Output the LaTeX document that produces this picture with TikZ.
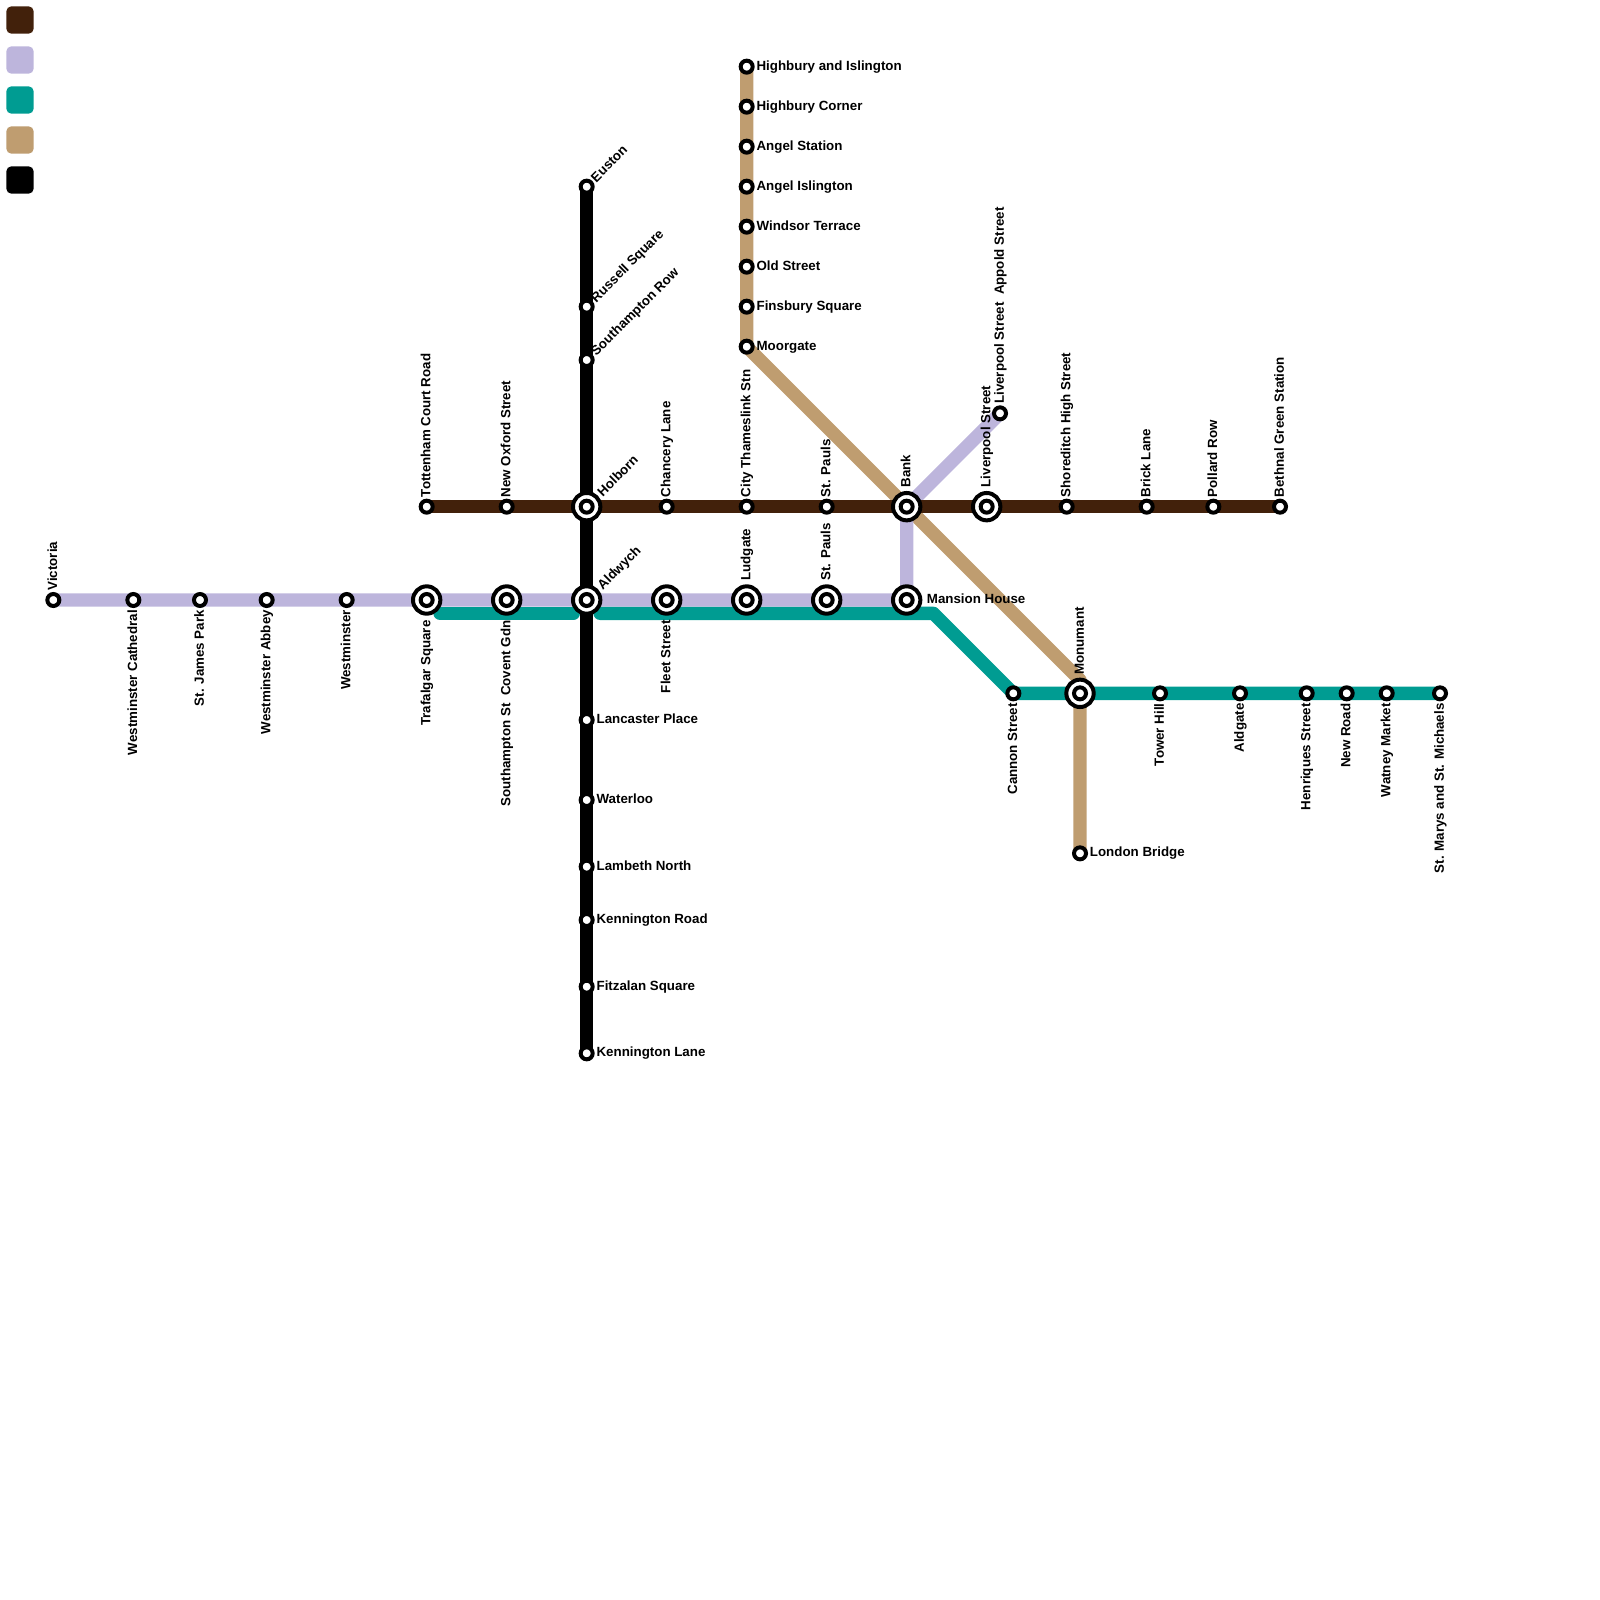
\documentclass[tikz,border=0pt]{standalone}
\usepackage{fontspec}
\setmainfont{Liberation Sans}
\usetikzlibrary{backgrounds}
\definecolor{lnbrown}{HTML}{42210B}
\definecolor{lnpurple}{HTML}{BDB5DC}
\definecolor{lnteal}{HTML}{009C92}
\definecolor{lntan}{HTML}{BF9D70}
\begin{document}
\begin{tikzpicture}
[x=0.25cm, y=-0.25cm, font=\fontsize{7.11}{8}\selectfont\bfseries,
key0/.style={rectangle, rounded corners=2.7pt, inner sep=0pt, minimum size=14.6pt},
lne/.style={line width=7.11pt, line cap=round, line join=round},
stn/.style={circle, draw=black, fill=white, line width=2.13pt, inner sep=0pt, minimum size=6.4pt},
ichg/.style={circle, draw=black, fill=white, line width=2.13pt, inner sep=0pt, minimum size=14.6pt},
lblup/.style={rotate=90, anchor=base west, inner sep=0pt, xshift=4.9pt, yshift=-2pt},
lbldn/.style={rotate=90, anchor=base east, inner sep=0pt, xshift=-5.2pt, yshift=-2pt},
lblrt/.style={anchor=base west, inner sep=0pt, xshift=5.1pt, yshift=-1.9pt},
lbldg/.style={anchor=base west, inner sep=0pt, xshift=5pt, yshift=1.8pt, rotate=45},
lbldgx/.style={anchor=base west, inner sep=0pt, xshift=8.5pt, yshift=5pt, rotate=45}]

\useasboundingbox (0,0) rectangle (120,120);

% key
\node[key0, fill=lnbrown] (key1) at (1.5,1.5) {};
\node[key0, fill=lnpurple] (key2) at (1.5,4.5) {};
\node[key0, fill=lnteal] (key3) at (1.5,7.5) {};
\node[key0, fill=lntan] (key4) at (1.5,10.5) {};
\node[key0, fill=black] (key5) at (1.5,13.5) {};

% stations
\node[stn] (victoria) at (4,45) {};
\node[stn] (wcath) at (10,45) {};
\node[stn] (james) at (15,45) {};
\node[stn] (abbey) at (20,45) {};
\node[stn] (westm) at (26,45) {};

\node[stn] (tott) at (32,38) {};
\node[stn] (oxford) at (38,38) {};
\node[stn] (chancery) at (50,38) {};
\node[stn] (thames) at (56,38) {};
\node[stn] (pauls) at (62,38) {};
\node[stn] (shore) at (80,38) {};
\node[stn] (brick) at (86,38) {};
\node[stn] (pollard) at (91,38) {};
\node[stn] (bethnal) at (96,38) {};

\node[stn] (appold) at (75,31) {};

\node[stn] (euston) at (44,14) {};
\node[stn] (russell) at (44,23) {};
\node[stn] (srow) at (44,27) {};
\node[stn] (lancaster) at (44,54) {};
\node[stn] (waterloo) at (44,60) {};
\node[stn] (lambeth) at (44,65) {};
\node[stn] (kroad) at (44,69) {};
\node[stn] (fitzalan) at (44,74) {};
\node[stn] (klane) at (44,79) {};

\node[stn] (hislington) at (56,5) {};
\node[stn] (hcorner) at (56,8) {};
\node[stn] (angelst) at (56,11) {};
\node[stn] (angelis) at (56,14) {};
\node[stn] (windsor) at (56,17) {};
\node[stn] (oldst) at (56,20) {};
\node[stn] (finsbury) at (56,23) {};
\node[stn] (moorgate) at (56,26) {};
\node[stn] (lbridge) at (81,64) {};

\node[stn] (cannon) at (76,52) {};
\node[stn] (tower) at (87,52) {};
\node[stn] (aldgate) at (93,52) {};
\node[stn] (henriques) at (98,52) {};
\node[stn] (newroad) at (101,52) {};
\node[stn] (watney) at (104,52) {};
\node[stn] (marys) at (108,52) {};

% interchanges, ring then inner station
\foreach \n/\x/\y in {trafalgar/32/45, covent/38/45, aldwych/44/45, fleet/50/45,
    ludgate/56/45, spauls/62/45, mansion/68/45, holborn/44/38, bank/68/38,
    liverpool/74/38, monument/81/52} {
  \node[ichg] (\n) at (\x,\y) {};
  \node[stn] (\n0) at (\x,\y) {};
}

% lines
\coordinate (tealw) at (33,46);
\coordinate (teale) at (43,46);
\coordinate (tealf) at (45,46);
\coordinate (tealb) at (70,46);
\coordinate (tanb) at (81,51);

\begin{scope}[on background layer]
\draw[lne, lntan] (hislington.center) -- (moorgate.center) -- (tanb) -- (lbridge.center);
\draw[lne, lnteal] (tealw) -- (teale);
\draw[lne, lnteal] (tealf) -- (tealb) -- (cannon.center) -- (marys.center);
\draw[lne, black] (euston.center) -- (klane.center);
\draw[lne, lnpurple] (victoria.center) -- (mansion.center) -- (bank.center) -- (appold.center);
\draw[lne, lnbrown] (tott.center) -- (bethnal.center);
\end{scope}

% labels
\node[lblup] (t1) at (victoria) {Victoria};
\node[lbldn] (t2) at (wcath) {Westminster Cathedral};
\node[lbldn] (t3) at (james) {St. James Park};
\node[lbldn] (t4) at (abbey) {Westminster Abbey};
\node[lbldn] (t5) at (westm) {Westminster};
\node[lbldn, xshift=-5.5pt] (t6) at (trafalgar) {Trafalgar Square};
\node[lbldn, xshift=-5.5pt] (t7) at (covent) {Southampton St~~Covent Gdn};
\node[lbldn, xshift=-5.5pt] (t8) at (fleet) {Fleet Street};
\node[lblup, xshift=5.3pt] (t9) at (ludgate) {Ludgate};
\node[lblup, xshift=5.3pt] (t10) at (spauls) {St. Pauls};
\node[lblrt, xshift=5.5pt] (t11) at (mansion) {Mansion House};

\node[lblup] (t12) at (tott) {Tottenham Court Road};
\node[lblup] (t13) at (oxford) {New Oxford Street};
\node[lblup] (t14) at (chancery) {Chancery Lane};
\node[lblup] (t15) at (thames) {City Thameslink Stn};
\node[lblup] (t16) at (pauls) {St. Pauls};
\node[lblup, xshift=5.3pt] (t17) at (bank) {Bank};
\node[lblup, xshift=5.3pt] (t18) at (liverpool) {Liverpool Street};
\node[lblup] (t19) at (appold) {Liverpool Street~~Appold Street};
\node[lblup] (t20) at (shore) {Shoreditch High Street};
\node[lblup] (t21) at (brick) {Brick Lane};
\node[lblup] (t22) at (pollard) {Pollard Row};
\node[lblup] (t23) at (bethnal) {Bethnal Green Station};

\node[lbldg] (t24) at (euston) {Euston};
\node[lbldg] (t25) at (russell) {Russell Square};
\node[lbldg] (t26) at (srow) {Southampton Row};
\node[lbldgx] (t27) at (holborn) {Holborn};
\node[lbldgx] (t28) at (aldwych) {Aldwych};

\node[lblrt] (t29) at (lancaster) {Lancaster Place};
\node[lblrt] (t30) at (waterloo) {Waterloo};
\node[lblrt] (t31) at (lambeth) {Lambeth North};
\node[lblrt] (t32) at (kroad) {Kennington Road};
\node[lblrt] (t33) at (fitzalan) {Fitzalan Square};
\node[lblrt] (t34) at (klane) {Kennington Lane};

\node[lblrt] (t35) at (hislington) {Highbury and Islington};
\node[lblrt] (t36) at (hcorner) {Highbury Corner};
\node[lblrt] (t37) at (angelst) {Angel Station};
\node[lblrt] (t38) at (angelis) {Angel Islington};
\node[lblrt] (t39) at (windsor) {Windsor Terrace};
\node[lblrt] (t40) at (oldst) {Old Street};
\node[lblrt] (t41) at (finsbury) {Finsbury Square};
\node[lblrt] (t42) at (moorgate) {Moorgate};
\node[lblrt] (t43) at (lbridge) {London Bridge};

\node[lbldn] (t44) at (cannon) {Cannon Street};
\node[lblup, xshift=4.8pt] (t45) at (monument) {Monumant};
\node[lbldn] (t46) at (tower) {Tower Hill};
\node[lbldn] (t47) at (aldgate) {Aldgate};
\node[lbldn] (t48) at (henriques) {Henriques Street};
\node[lbldn] (t49) at (newroad) {New Road};
\node[lbldn] (t50) at (watney) {Watney Market};
\node[lbldn] (t51) at (marys) {St. Marys and St. Michaels};
\end{tikzpicture}
\end{document}
